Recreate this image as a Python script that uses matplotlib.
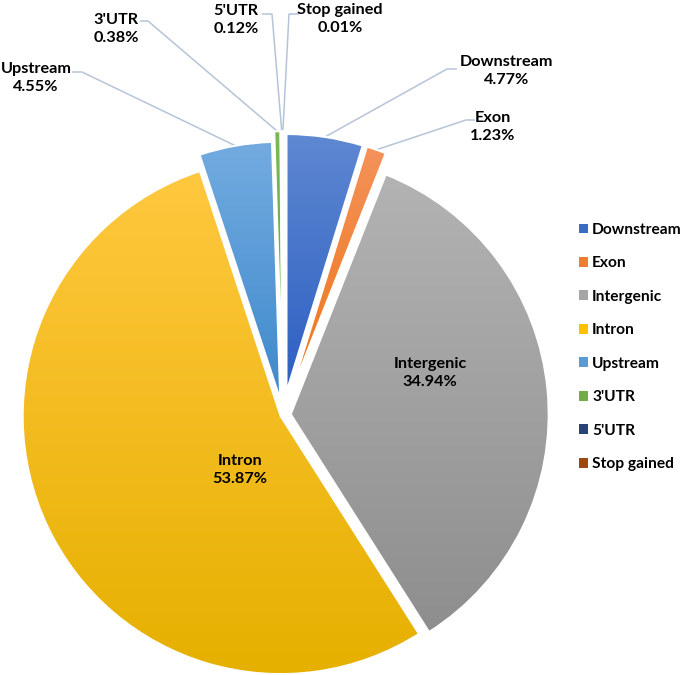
import numpy as np
import matplotlib
matplotlib.use("Agg")
import matplotlib.pyplot as plt
from matplotlib.colors import LinearSegmentedColormap
from matplotlib.patches import Patch

# data, clockwise from 12 o'clock
categories = ["Downstream", "Exon", "Intergenic", "Intron", "Upstream",
              "3'UTR", "5'UTR", "Stop gained"]
percent = [4.77, 1.23, 34.94, 53.87, 4.55, 0.38, 0.12, 0.01]

# style
explode = [0.09, 0.09, 0.03, 0.01, 0.06, 0.1, 0.1, 0.1]
grad_top = ["#5f88d2", "#f4925a", "#b3b3b3", "#ffc83f", "#73abe0", "#7cb955", "#2f4f86", "#ad5520"]
grad_bot = ["#2c5fc2", "#ee7518", "#8e8e8e", "#e6b000", "#3e89cc", "#62a23b", "#1e3a6c", "#8e3f0a"]
legend_col = ["#3c6bc7", "#ef7d31", "#a5a5a5", "#ffc000", "#5b9bd5", "#70ad47", "#264478", "#9e480e"]

plt.rcParams['font.family'] = ['Lato', 'DejaVu Sans']
FS = 11.7

W, H = 685, 675
R = 258.0          # pie radius in pixels
CX, CY = 283, 415  # pie center in pixels (from top-left)

fig = plt.figure(figsize=(W / 100, H / 100), dpi=100)
ax = fig.add_axes([0, 0, 1, 1])


def px(x, y):
    # pixel position -> data coords (radius 1 pie)
    return (x - CX) / R, (CY - y) / R


wedges, _ = ax.pie(percent, explode=explode, startangle=90, counterclock=False,
                   radius=1, wedgeprops=dict(edgecolor="white", linewidth=1.5, zorder=3))

grad = np.linspace(0, 1, 256).reshape(-1, 1)
for w, ct, cb in zip(wedges, grad_top, grad_bot):
    w.set_facecolor("none")
    ext = w.get_patch_transform().transform_path(w.get_path()).get_extents()
    cmap = LinearSegmentedColormap.from_list("g", [cb, ct])
    im = ax.imshow(grad, extent=[ext.x0, ext.x1, ext.y0, ext.y1], origin="lower",
                   cmap=cmap, aspect="auto", zorder=2, interpolation="bilinear")
    im.set_clip_path(w)

ax.set_xlim(-CX / R, (W - CX) / R)
ax.set_ylim(-(H - CY) / R, CY / R)
ax.set_aspect("auto")
ax.axis("off")

# inside labels
inside = {"Intergenic": (430, 373), "Intron": (240, 470)}
for name, (x, y) in inside.items():
    i = categories.index(name)
    ax.text(*px(x, y), f"{name}\n{percent[i]:.2f}%", ha="center", va="center",
            fontsize=FS, fontweight="bold", linespacing=1.35, zorder=5)

# outside labels: text center, elbow, line end (pixels)
outside = {
    "Upstream":    ((36, 78),  (82, 72),  (72, 72)),
    "3'UTR":       ((116, 29), (148, 21), (140, 21)),
    "5'UTR":       ((236, 20), (272, 14), (262, 14)),
    "Stop gained": ((340, 19), (289, 14), (299, 14)),
    "Downstream":  ((507, 71), (447, 69), (457, 69)),
    "Exon":        ((493, 127), (466, 120), (475, 120)),
}
for name, (tc, elbow, end) in outside.items():
    i = categories.index(name)
    w = wedges[i]
    mid = np.deg2rad((w.theta1 + w.theta2) / 2)
    sx = w.center[0] + w.r * np.cos(mid)
    sy = w.center[1] + w.r * np.sin(mid)
    ex, ey = px(*elbow)
    fx, fy = px(*end)
    ax.plot([sx, ex, fx], [sy, ey, fy], color="#b7c4d8", lw=1.1, zorder=1,
            solid_capstyle="butt")
    ax.text(*px(*tc), f"{name}\n{percent[i]:.2f}%", ha="center", va="center",
            fontsize=FS, fontweight="bold", linespacing=1.35, zorder=5)

handles = [Patch(facecolor=c, edgecolor="none") for c in legend_col]
fig.legend(handles, categories, loc="center left", bbox_to_anchor=(579 / W, 1 - 347 / H),
           frameon=False, handlelength=0.6, handleheight=0.6, handletextpad=0.25,
           labelspacing=1.25, prop=dict(size=FS - 0.5, weight="bold"),
           borderpad=0, borderaxespad=0)

fig.savefig("out.png", dpi=100)
